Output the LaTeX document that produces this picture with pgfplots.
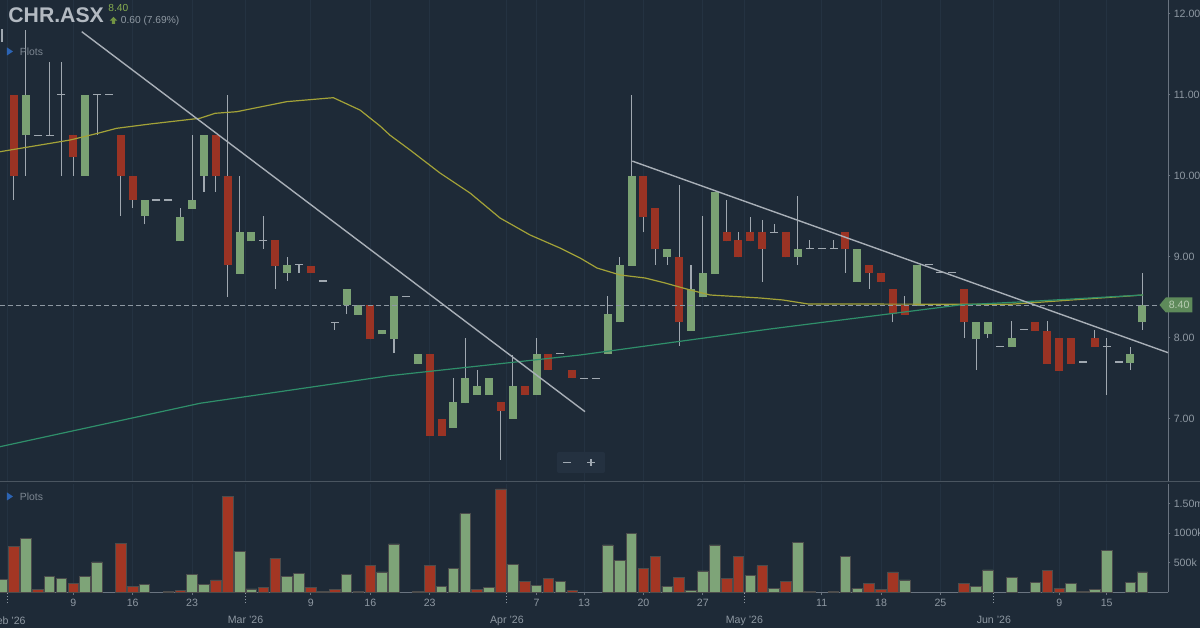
\documentclass[border=0pt]{standalone}
\usepackage{pgfplots}
\pgfplotsset{compat=1.18}
\usepackage{pgfplotstable}
\usepackage{fontspec}
\setmainfont{Liberation Sans}
\usetikzlibrary{shapes.symbols}

\definecolor{bg}{HTML}{1E2A37}
\definecolor{gridc}{HTML}{243241}
\definecolor{tickc}{HTML}{8E98A2}
\definecolor{axisc}{HTML}{6A7480}
\definecolor{sepc}{HTML}{4A5560}
\definecolor{upc}{HTML}{7AA173}
\definecolor{dnc}{HTML}{9A3324}
\definecolor{wick}{HTML}{A0A8B0}
\definecolor{maolive}{HTML}{A3A238}
\definecolor{mateal}{HTML}{2F8F6A}
\definecolor{trend}{HTML}{A8AFB7}
\definecolor{vup}{HTML}{7EA478}
\definecolor{vdn}{HTML}{A33623}
\definecolor{hdr}{HTML}{B3BAC2}
\definecolor{pricegreen}{HTML}{86AD4F}
\definecolor{tagfill}{HTML}{5E8A5A}
\definecolor{tagtext}{HTML}{B8CDB2}
\definecolor{plotsblue}{HTML}{2C64B4}
\definecolor{btnbg}{HTML}{243140}
\definecolor{btnfg}{HTML}{A0A9B2}

\pgfplotstableread{
i o h l c
2 10.5 11.8 10.0 11.0
7 10.0 11.0 10.0 11.0
12 9.5 9.7 9.4 9.7
15 9.19 9.6 9.19 9.49
16 9.59 10.5 9.59 9.70
17 10.0 10.5 9.8 10.5
20 8.79 10.0 8.79 9.30
21 9.19 9.30 9.19 9.30
24 8.8 9.0 8.7 8.9
29 8.40 8.60 8.29 8.60
30 8.28 8.40 8.28 8.40
32 8.04 8.10 8.04 8.10
33 7.98 8.51 7.81 8.51
35 7.68 7.80 7.68 7.80
38 6.89 7.50 6.89 7.20
39 7.19 8.0 7.19 7.50
40 7.29 7.60 7.29 7.40
41 7.29 7.50 7.29 7.50
43 7.0 7.79 7.0 7.40
45 7.29 7.99 7.29 7.80
51 7.80 8.51 7.80 8.29
52 8.19 9.0 8.19 8.90
53 8.89 11.0 8.89 10.0
56 8.99 9.10 8.9 9.10
58 8.08 8.90 8.08 8.60
59 8.50 9.50 8.50 8.80
60 8.79 9.80 8.79 9.80
67 8.99 9.75 8.90 9.10
72 8.69 9.10 8.69 9.10
77 8.39 8.90 8.39 8.90
82 7.98 8.19 7.60 8.19
83 8.04 8.19 8.0 8.19
85 7.89 8.20 7.89 7.99
95 7.69 7.89 7.6 7.80
96 8.19 8.80 8.10 8.40
}\greens

\pgfplotstableread{
i o h l c
1 11.0 11.0 9.70 10.0
6 10.5 10.5 10.0 10.23
10 10.5 10.5 9.5 10.0
11 10.0 10.0 9.6 9.7
18 10.5 10.5 9.8 10.0
19 10.0 11.0 8.5 8.9
23 9.2 9.2 8.6 8.89
26 8.89 8.89 8.8 8.8
31 8.40 8.40 7.98 7.98
36 7.80 7.80 6.79 6.79
37 7.0 7.0 6.79 6.79
42 7.20 7.20 6.49 7.10
44 7.40 7.40 7.29 7.29
46 7.80 7.80 7.60 7.60
48 7.60 7.60 7.50 7.50
54 10.0 10.0 9.30 9.49
55 9.60 9.60 8.9 9.09
57 9.0 9.89 7.90 8.19
61 9.30 9.70 9.19 9.19
62 9.20 9.30 8.99 8.99
63 9.30 9.49 9.19 9.19
64 9.30 9.45 8.69 9.09
66 9.30 9.30 8.99 8.99
71 9.30 9.30 8.80 9.09
73 8.90 8.90 8.60 8.80
74 8.80 8.80 8.69 8.69
75 8.60 8.60 8.19 8.29
76 8.40 8.51 8.28 8.28
81 8.60 8.60 8.0 8.19
87 8.19 8.19 8.08 8.08
88 8.08 8.20 7.68 7.68
89 7.99 7.99 7.59 7.59
90 7.99 7.99 7.68 7.68
92 7.99 8.10 7.89 7.89
}\reds

% first session: only its wick is in view
\pgfplotstableread{
i o h l c
0 11.65 11.81 11.65 11.65
}\firstday

\pgfplotstableread{
i o h l c
3 10.5 10.5 10.5 10.5
4 10.5 11.4 10.5 10.5
5 11.0 11.4 10.0 11.0
8 11.0 11.0 10.5 11.0
9 11.0 11.0 11.0 11.0
13 9.7 9.7 9.7 9.7
14 9.7 9.7 9.7 9.7
22 9.2 9.5 9.1 9.2
25 8.9 8.9 8.8 8.9
27 8.7 8.7 8.7 8.7
28 8.19 8.19 8.1 8.19
34 8.51 8.51 8.51 8.51
47 7.80 7.80 7.80 7.80
49 7.5 7.5 7.5 7.5
50 7.5 7.5 7.5 7.5
65 9.3 9.4 9.3 9.3
68 9.1 9.21 9.1 9.1
69 9.1 9.1 9.1 9.1
70 9.1 9.21 9.1 9.1
78 8.9 8.9 8.9 8.9
79 8.8 8.8 8.8 8.8
80 8.8 8.8 8.8 8.8
84 7.89 7.89 7.89 7.89
86 8.1 8.1 8.1 8.1
91 7.7 7.7 7.7 7.7
93 7.89 7.99 7.29 7.89
94 7.7 7.7 7.7 7.7
}\dojis

\pgfplotstableread{
i v
0 220
2 912
4 264
5 236
7 264
8 512
12 140
16 309
17 140
20 686
21 56
24 264
25 321
29 309
32 343
33 816
35 22
37 106
38 399
39 1328
41 78
43 478
45 123
47 191
51 799
52 534
53 997
56 106
58 39
59 360
60 799
63 292
65 61
67 838
68 22
70 22
71 613
72 67
76 208
82 95
83 377
85 258
87 174
90 145
91 22
92 50
93 703
95 162
96 343
}\volup

\pgfplotstableread{
i v
1 770
3 50
6 152
10 821
11 95
14 10
15 34
18 208
19 1615
22 84
23 574
26 78
27 22
28 50
30 10
31 456
36 450
40 50
42 1745
44 179
46 236
48 39
54 399
55 602
57 247
61 236
62 613
64 450
66 179
73 152
74 50
75 343
81 157
88 365
89 67
}\voldn

\pgfplotsset{
  chartbase/.style={
    scale only axis, width=584bp,
    xmin=-0.171, xmax=98.16,
    axis line style={-, draw=axisc, line width=0.5bp},
    every outer x axis line/.append style={-},
    every outer y axis line/.append style={-},
    tick align=outside,
    major tick length=1.2bp,
    tick style={draw=axisc, line width=0.5bp},
    tick label style={font=\fontsize{5.3bp}{6bp}\selectfont, text=tickc},
    /pgf/number format/assume math mode=true,
    grid style={draw=gridc, line width=0.5bp},
    xmajorgrids,
  },
  wickstyle/.style={draw=none, forget plot, mark=none,
    error bars/.cd, y dir=plus, y explicit, error mark=none,
    error bar style={draw=wick, line width=0.55bp, solid}},
}

\begin{document}
\begin{tikzpicture}
\clip (0bp,0bp) rectangle (600bp,-314bp);
\fill[bg] (0bp,0bp) rectangle (600bp,-314bp);

% ---------- price panel ----------
\begin{axis}[chartbase,
  at={(0bp,0bp)}, anchor=north west, height=241bp,
  ymin=6.218, ymax=12.169,
  axis x line*=bottom, axis y line*=right,
  x axis line style={draw=none},
  xtick={0.5,6,11,16,20.5,26,31,36,42.5,45,49,54,59,62.5,69,74,79,83.5,89,93},
  xticklabels={}, xtick style={draw=none},
  ytick={7,8,9,10,11,12},
  yticklabels={7.00,8.00,9.00,10.00,11.00,12.00},
  yticklabel style={anchor=west, inner sep=0pt, xshift=1.5bp},
  clip=true,
]
% wicks
\addplot[wickstyle] table[x=i, y=l, y error plus expr=\thisrow{h}-\thisrow{l}] {\firstday};
\addplot[wickstyle] table[x=i, y=l, y error plus expr=\thisrow{h}-\thisrow{l}] {\greens};
\addplot[wickstyle] table[x=i, y=l, y error plus expr=\thisrow{h}-\thisrow{l}] {\reds};
\addplot[wickstyle] table[x=i, y=l, y error plus expr=\thisrow{h}-\thisrow{l}] {\dojis};
% bodies
\addplot[draw=none, mark=none, forget plot, error bars/.cd, y dir=plus, y explicit, error mark=none,
  error bar style={draw=upc, line width=4bp, solid}]
  table[x=i, y=o, y error plus expr=\thisrow{c}-\thisrow{o}] {\greens};
\addplot[draw=none, mark=none, forget plot, error bars/.cd, y dir=plus, y explicit, error mark=none,
  error bar style={draw=dnc, line width=4bp, solid}]
  table[x=i, y=c, y error plus expr=\thisrow{o}-\thisrow{c}] {\reds};
\addplot[only marks, mark=-, mark size=2bp, mark options={draw=wick, line width=0.6bp}]
  table[x=i, y=o] {\dojis};
% last price line
\addplot[draw=tickc, line width=0.5bp, dash pattern=on 2.5bp off 1.5bp] coordinates {(-0.171,8.40) (98.16,8.40)};
% moving averages
\addplot[maolive, line width=0.6bp] coordinates {
(-0.17,10.296) (5.72,10.44) (7.97,10.52) (9.65,10.585) (12.46,10.638) (16.67,10.709)
(17.93,10.77) (19.76,10.79) (23.97,10.914) (27.89,10.963) (30.14,10.81) (31.82,10.614)
(32.66,10.50) (34.35,10.317) (36.87,10.033) (39.4,9.786) (41.92,9.478) (44.45,9.268)
(46.97,9.107) (48.66,8.984) (50.09,8.860) (52.03,8.774) (54.13,8.737) (55.82,8.675)
(57.92,8.589) (59.6,8.527) (63.81,8.490) (65.75,8.465) (67.86,8.416) (84.86,8.412) (96.06,8.527)};
\addplot[mateal, line width=0.6bp] coordinates {
(-0.17,6.654) (16.67,7.19) (32.66,7.531) (48.66,7.786) (64.65,8.107) (80.65,8.404) (85.7,8.441) (96.06,8.527)};
% trend lines
\addplot[trend, line width=0.7bp] coordinates {(6.71,11.778) (49.08,7.086)};
\addplot[trend, line width=0.7bp] coordinates {(53.06,10.18) (98.16,7.815)};
\end{axis}

% ---------- volume panel ----------
\begin{axis}[chartbase,
  at={(0bp,-242bp)}, anchor=north west, height=54.15bp,
  ymin=0, ymax=1829,
  axis x line*=bottom, axis y line*=right,
  xtick={6,11,16,26,31,36,45,49,54,59,69,74,79,89,93},
  xticklabels={9,16,23,9,16,23,7,13,20,27,11,18,25,9,15},
  xticklabel style={anchor=north, inner sep=0pt, yshift=-2.2bp},
  extra x ticks={0.5,20.5,42.5,62.5,83.5},
  extra x tick labels={Feb '26,Mar '26,Apr '26,May '26,Jun '26},
  extra x tick style={grid=major, major tick length=5.5bp,
     tick style={draw=tickc, densely dotted, line width=0.5bp},
     xticklabel style={anchor=north, inner sep=0pt, yshift=-4.2bp}},
  ytick={500,1000,1500}, yticklabels={500k,1000k,1.50m},
  scaled y ticks=false,
  yticklabel style={anchor=west, inner sep=0pt, xshift=1.5bp},
  clip=true,
]
\addplot[ybar, bar width=5.3bp, bar shift=0pt, fill=vup, draw=black!70, line width=0.4bp]
  table[x=i, y=v] {\volup};
\addplot[ybar, bar width=5.3bp, bar shift=0pt, fill=vdn, draw=black!70, line width=0.4bp]
  table[x=i, y=v] {\voldn};
\end{axis}

% ---------- overlays (pixel coordinates) ----------
\begin{scope}[x=0.5bp, y=-0.5bp]
\draw[sepc, line width=0.5bp] (0,482) -- (1200,482);
% header
\node[anchor=base west, inner sep=0pt, text=hdr, font=\bfseries\fontsize{10.6bp}{12bp}\selectfont] at (8,22.7) {CHR.ASX};
\node[anchor=base west, inner sep=0pt, text=pricegreen, font=\fontsize{5.1bp}{6bp}\selectfont] at (108,11.2) {8.40};
\fill[pricegreen!85!black] (113.5,16.8) -- (117.3,20.6) -- (115.2,20.6) -- (115.2,24) -- (111.8,24) -- (111.8,20.6) -- (109.7,20.6) -- cycle;
\node[anchor=base west, inner sep=0pt, text=tickc, font=\fontsize{5.1bp}{6bp}\selectfont] at (120.5,23.4) {0.60 (7.69\%)};
% Plots labels
\fill[plotsblue] (7,47.5) -- (13,51.5) -- (7,55.5) -- cycle;
\node[anchor=base west, inner sep=0pt, text=tickc!85!bg, font=\fontsize{5.2bp}{6bp}\selectfont] at (19.5,55.3) {Plots};
\fill[plotsblue] (7,492.5) -- (13,496.5) -- (7,500.5) -- cycle;
\node[anchor=base west, inner sep=0pt, text=tickc!85!bg, font=\fontsize{5.2bp}{6bp}\selectfont] at (19.5,500.3) {Plots};
% zoom buttons
\fill[btnbg, rounded corners=1bp] (557,452) rectangle (605,473);
\draw[btnfg, line width=0.75bp] (563.5,462.5) -- (571,462.5);
\draw[btnfg, line width=0.75bp] (587.5,462.5) -- (595,462.5) (591.25,458.8) -- (591.25,466.2);
% last price tag
\node[signal, signal to=west, signal pointer angle=100, fill=tagfill, text=tagtext,
  font=\fontsize{5.3bp}{6bp}\selectfont, inner xsep=1.5bp, inner ysep=1.6bp, minimum height=7.5bp,
  anchor=west] at (1159,305) {8.40};
\end{scope}
\end{tikzpicture}
\end{document}
